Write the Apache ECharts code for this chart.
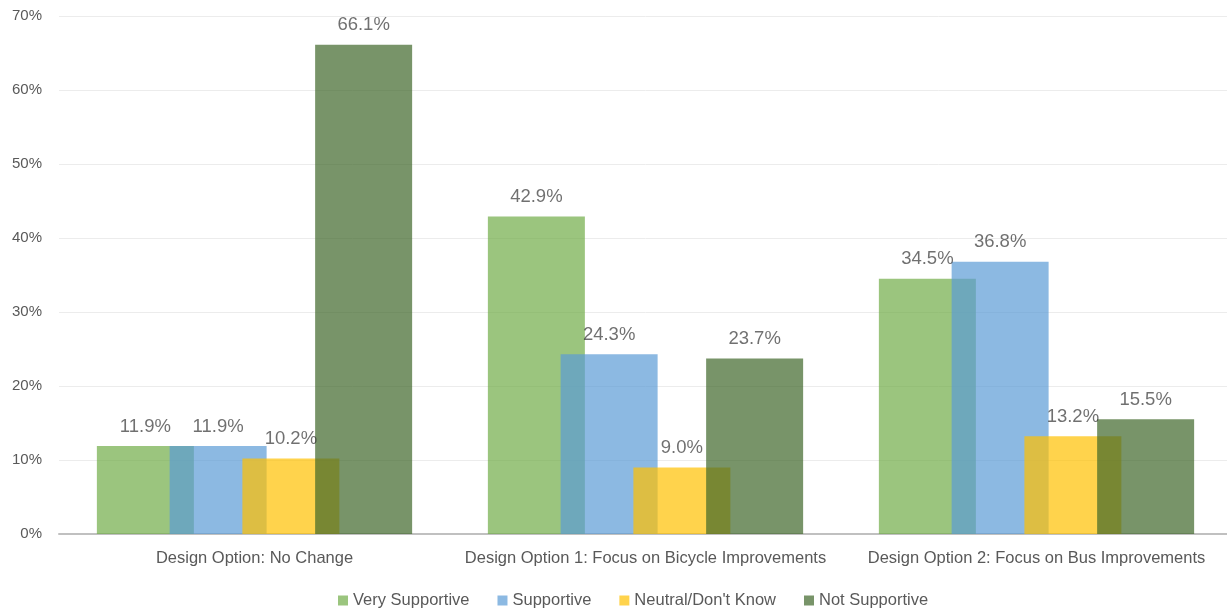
<!DOCTYPE html>
<html>
<head>
<meta charset="utf-8">
<script src="https://cdn.jsdelivr.net/npm/echarts@6/dist/echarts.min.js"></script>
<style>
html,body{margin:0;padding:0;background:#fff;overflow:hidden;width:1227px;height:610px;}
#chart{width:1232px;height:610px;}
</style>
</head>
<body>
<div id="chart"></div>
<script>
const categories = ['Design Option: No Change', 'Design Option 1: Focus on Bicycle Improvements', 'Design Option 2: Focus on Bus Improvements'];
const seriesNames = ['Very Supportive', 'Supportive', "Neutral/Don't Know", 'Not Supportive'];
const verySupportive = [11.9, 42.9, 34.5];
const supportive = [11.9, 24.3, 36.8];
const neutral = [10.2, 9.0, 13.2];
const notSupportive = [66.1, 23.7, 15.5];
const yTicks = [0, 10, 20, 30, 40, 50, 60, 70];

const colors = ['#70AD47', '#5B9BD5', '#FFC000', '#3E6629'];
const values = [verySupportive, supportive, neutral, notSupportive];
const FONT = '"Liberation Sans", Arial, sans-serif';

const chart = echarts.init(document.getElementById('chart'), null, {renderer: 'canvas'});
chart.setOption({
  animation: false,
  backgroundColor: '#fff',
  grid: {left: 59, top: 16, bottom: 76, right: 0, containLabel: false},
  legend: {
    data: seriesNames,
    left: 333,
    top: 587,
    itemWidth: 10,
    itemHeight: 10,
    itemGap: 28,
    icon: 'rect',
    textStyle: {fontFamily: FONT, fontSize: 16.5, color: '#595959'}
  },
  xAxis: {
    type: 'category',
    data: categories,
    axisTick: {show: false},
    axisLine: {lineStyle: {color: '#c0c0c0', width: 2}},
    axisLabel: {fontFamily: FONT, fontSize: 16.5, color: '#595959', margin: 16, interval: 0}
  },
  yAxis: {
    type: 'value',
    min: yTicks[0],
    max: yTicks[yTicks.length - 1],
    interval: 10,
    axisLine: {show: false},
    axisTick: {show: false},
    splitLine: {lineStyle: {color: '#ececec', width: 1}},
    axisLabel: {fontFamily: FONT, fontSize: 15, color: '#595959', margin: 17, formatter: '{value}%'}
  },
  series: seriesNames.map((name, i) => ({
    name: name,
    type: 'bar',
    data: values[i],
    barWidth: 97,
    barGap: '-25%',
    itemStyle: {color: colors[i], opacity: 0.7},
    label: {
      show: true,
      position: 'top',
      distance: 10,
      fontFamily: FONT,
      fontSize: 18.5,
      color: '#333333',
      formatter: p => p.value.toFixed(1) + '%'
    }
  }))
});
</script>
</body>
</html>
